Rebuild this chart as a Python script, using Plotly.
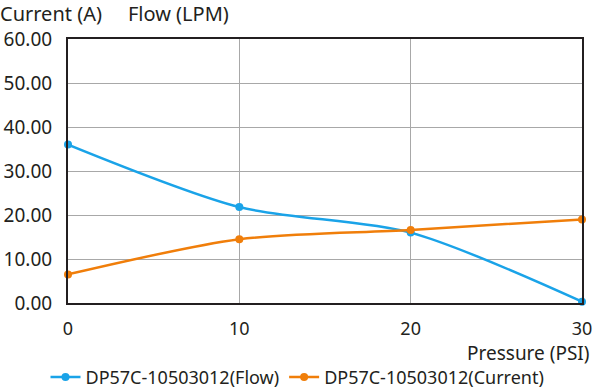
import plotly.graph_objects as go

pressure = [0, 10, 20, 30]
flow = [36.0, 21.8, 16.0, 0.3]
current = [6.5, 14.5, 16.6, 19.0]
y_ticks = [0, 10, 20, 30, 40, 50, 60]
y_tick_labels = ["0.00", "10.00", "20.00", "30.00", "40.00", "50.00", "60.00"]
x_ticks = [0, 10, 20, 30]

FONT = "Noto Sans"
W, H = 595, 389
ML, MR, MT, MB = 68, 13, 39, 86
PW = W - ML - MR

fig = go.Figure()
fig.add_trace(go.Scatter(x=pressure, y=flow, mode="lines+markers", name="DP57C-10503012(Flow)",
                         line=dict(color="#1AA3E8", width=2.5, shape="spline", smoothing=0.8),
                         marker=dict(size=8, color="#1AA3E8"), cliponaxis=False))
fig.add_trace(go.Scatter(x=pressure, y=current, mode="lines+markers", name="DP57C-10503012(Current)",
                         line=dict(color="#F07E0A", width=2.5, shape="spline", smoothing=0.8),
                         marker=dict(size=8, color="#F07E0A"), cliponaxis=False))

fig.update_layout(
    width=W, height=H,
    margin=dict(l=ML, r=MR, t=MT, b=MB, autoexpand=False),
    paper_bgcolor="white", plot_bgcolor="white",
    font=dict(family=FONT, color="#231F20"),
    showlegend=True,
    legend=dict(orientation="h", xref="container", x=0.5, xanchor="center",
                yref="container", y=0.03, yanchor="middle",
                font=dict(size=18, family=FONT), itemwidth=30, tracegroupgap=0),
    xaxis=dict(range=[0, 30], tickvals=x_ticks, showgrid=True, gridcolor="#A8A8A8", gridwidth=1,
               showline=True, linecolor="#231F20", linewidth=2, mirror=True, zeroline=False,
               ticks="", ticklabelstandoff=8, automargin=False, tickfont=dict(size=18, family=FONT)),
    yaxis=dict(range=[0, 60], tickvals=y_ticks, ticktext=y_tick_labels, showgrid=True,
               gridcolor="#A8A8A8", gridwidth=1, showline=True, linecolor="#231F20", linewidth=2,
               mirror=True, zeroline=False, ticks="", ticklabelstandoff=10, automargin=False,
               tickfont=dict(size=19, family=FONT)),
    annotations=[
        dict(text="Current (A)     Flow (LPM)", xref="paper", yref="paper", x=-ML/PW, y=1.0,
             xanchor="left", yanchor="bottom", yshift=10, xshift=-2, showarrow=False,
             font=dict(size=20, family=FONT)),
        dict(text="Pressure (PSI)", xref="paper", yref="paper", x=1.0, y=0, xanchor="right",
             yanchor="top", yshift=-35, xshift=10, showarrow=False, font=dict(size=19, family=FONT)),
    ],
)
fig.write_html("out.html", config={"displayModeBar": False},
               post_script="document.body.style.margin='0';")
